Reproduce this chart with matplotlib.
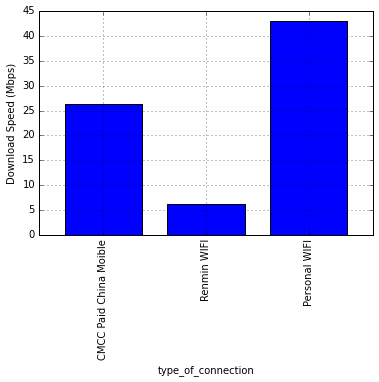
import matplotlib
matplotlib.use("Agg")
import matplotlib.pyplot as plt
import numpy as np

# data
connections = ["CMCC Paid China Moible", "Renmin WIFI", "Personal WIFI"]
download_speed = [26.3, 6.2, 43.0]

plt.style.use("classic")
plt.rcParams["font.size"] = 10

fig = plt.figure(figsize=(379 / 72, 382 / 72), dpi=72)
ax = fig.add_axes([39 / 379, 1 - 235 / 382, (373 - 39) / 379, (235 - 11) / 382])

x = np.arange(len(connections))
ax.bar(x, download_speed, width=0.75, color="b", edgecolor="k", linewidth=1, align="center")

ax.set_xlim(-0.625, len(connections) - 0.375)
ax.set_ylim(0, 45)
ax.set_xticks(x)
ax.set_xticklabels(connections, rotation=90)
ax.set_xlabel("type_of_connection")
ax.set_ylabel("Download Speed (Mbps)")
ax.grid(True)

fig.savefig("out.png", dpi=72)
